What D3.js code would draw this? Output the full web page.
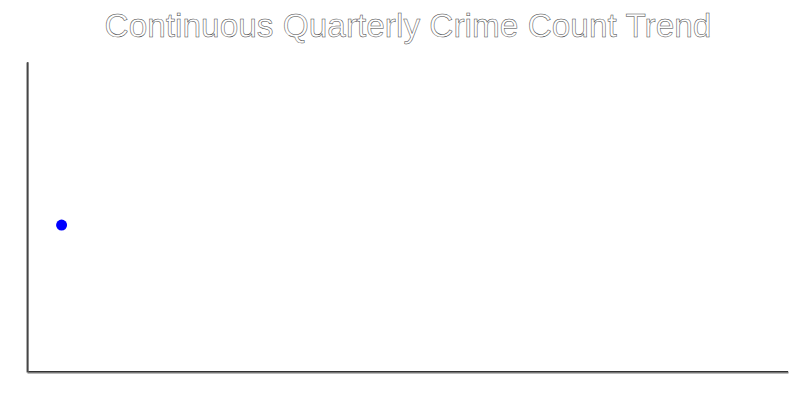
<!DOCTYPE html>
<html>
<head>
<meta charset="utf-8">
<script src="https://cdn.jsdelivr.net/npm/d3@7"></script>
<style>
  html, body { margin: 0; padding: 0; background: #fff; }
  svg { display: block; }
</style>
</head>
<body>
<svg id="chart" width="800" height="400"></svg>
<script>
const titleText = "Continuous Quarterly Crime Count Trend";
const quarters = ["Q1","Q2","Q3","Q4","Q5","Q6","Q7","Q8","Q9","Q10","Q11"];
const crimeCounts = [47.4, null, null, null, null, null, null, null, null, null, null];
const yDomain = [0, 100];

const svg = d3.select("#chart");
const margin = { top: 62, right: 12, bottom: 28, left: 27 };
const W = 800, H = 400;

const x = d3.scalePoint().domain(quarters).range([margin.left, W - margin.right]).padding(0.5);
const y = d3.scaleLinear().domain(yDomain).range([H - margin.bottom, margin.top]);

svg.append("text")
  .attr("x", W / 2 + 8)
  .attr("y", 37)
  .attr("text-anchor", "middle")
  .attr("font-family", "Liberation Sans, Arial, sans-serif")
  .attr("font-size", 33.4)
  .attr("fill", "#fff")
  .attr("stroke", "#444")
  .attr("stroke-width", 0.5)
  .text(titleText);

const xAxis = svg.append("g")
  .attr("transform", `translate(0,${H - margin.bottom})`)
  .call(d3.axisBottom(x).tickSize(0).tickFormat(""));
const yAxis = svg.append("g")
  .attr("transform", `translate(${margin.left},0)`)
  .call(d3.axisLeft(y).tickSize(0).tickFormat(""));

[xAxis, yAxis].forEach(g => {
  g.select(".domain").attr("stroke", "#777").attr("stroke-width", 2.2).attr("fill", "none");
  g.selectAll(".tick").remove();
});
// inner darker line
xAxis.append("path").attr("d", d3.line()([[margin.left, -0.5], [W - margin.right, -0.5]]))
  .attr("stroke", "#333").attr("stroke-width", 1);
yAxis.append("path").attr("d", d3.line()([[0.8, margin.top], [0.8, H - margin.bottom]]))
  .attr("stroke", "#333").attr("stroke-width", 1);

const pts = quarters.map((q, i) => ({ q, v: crimeCounts[i] })).filter(d => d.v != null);
svg.append("g").selectAll("circle").data(pts).join("circle")
  .attr("cx", d => x(d.q))
  .attr("cy", d => y(d.v))
  .attr("r", 5.5)
  .attr("fill", "#0000ff");
</script>
</body>
</html>
